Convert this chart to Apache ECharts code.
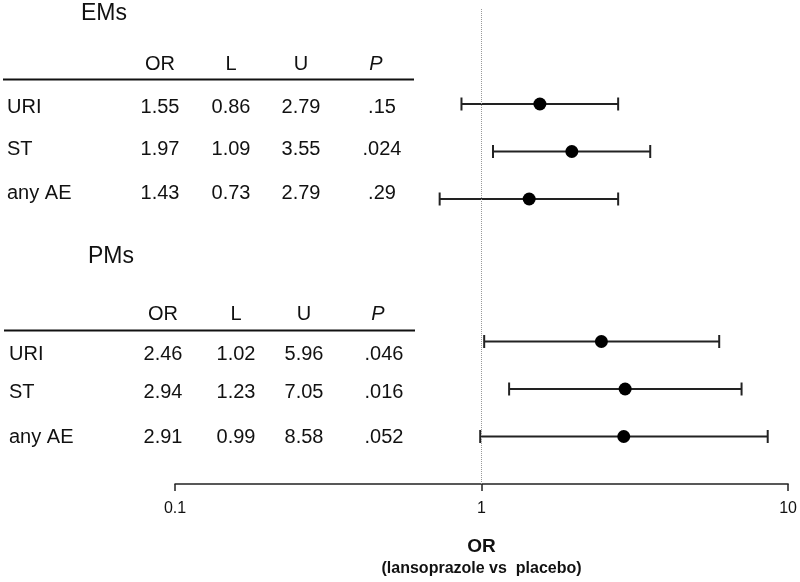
<!DOCTYPE html>
<html>
<head>
<meta charset="utf-8">
<script src="https://cdn.jsdelivr.net/npm/echarts@6/dist/echarts.min.js"></script>
<style>html,body{margin:0;padding:0;background:#fff;}#c{width:800px;height:582px;}</style>
</head>
<body>
<div id="c"></div>
<script>
// ---- data ----
var groups = ['EMs', 'PMs'];
var outcomes = ['URI', 'ST', 'any AE'];
var headers = ['OR', 'L', 'U', 'P'];
var emsOR = [1.55, 1.97, 1.43];
var emsL  = [0.86, 1.09, 0.73];
var emsU  = [2.79, 3.55, 2.79];
var emsP  = ['.15', '.024', '.29'];
var pmsOR = [2.46, 2.94, 2.91];
var pmsL  = [1.02, 1.23, 0.99];
var pmsU  = [5.96, 7.05, 8.58];
var pmsP  = ['.046', '.016', '.052'];
var emsRows = [0, 1, 2];
var pmsRows = [5, 6, 7];
var xTicks = [0.1, 1, 10];
var axisTitle1 = 'OR';
var axisTitle2 = '(lansoprazole vs  placebo)';

// ---- layout (positions only) ----
var FONT = '"Liberation Sans", Arial, sans-serif';
var blocks = [
  {title: groups[0], OR: emsOR, L: emsL, U: emsU, P: emsP,
   titleX: 81, titleY: 14, headY: 64, lineY: 79.5, lineX: [3, 414],
   rowY: [107, 149, 193], labelX: 7, cols: [160, 231, 301, 382], pHeadX: 376},
  {title: groups[1], OR: pmsOR, L: pmsL, U: pmsU, P: pmsP,
   titleX: 88, titleY: 257, headY: 314, lineY: 330.5, lineX: [4, 415],
   rowY: [354, 392, 437], labelX: 9, cols: [163, 236, 304, 384], pHeadX: 378}
];

var graphics = [];
blocks.forEach(function (b) {
  graphics.push({type: 'text', left: b.titleX, top: b.titleY - 12,
    style: {text: b.title, font: '23px ' + FONT, fill: '#111'}});
  headers.forEach(function (h, i) {
    var x = (h === 'P') ? b.pHeadX : b.cols[i];
    graphics.push({type: 'text', x: x, y: b.headY,
      style: {text: h, font: (h === 'P' ? 'italic ' : '') + '20px ' + FONT, fill: '#111',
              align: 'center', verticalAlign: 'middle'}});
  });
  graphics.push({type: 'line', shape: {x1: b.lineX[0], y1: b.lineY, x2: b.lineX[1], y2: b.lineY},
    style: {stroke: '#111', lineWidth: 2}});
  outcomes.forEach(function (o, r) {
    var y = b.rowY[r];
    graphics.push({type: 'text', x: b.labelX, y: y,
      style: {text: o, font: '20px ' + FONT, fill: '#111', align: 'left', verticalAlign: 'middle'}});
    var vals = [b.OR[r].toFixed(2), b.L[r].toFixed(2), b.U[r].toFixed(2), b.P[r]];
    vals.forEach(function (v, i) {
      graphics.push({type: 'text', x: b.cols[i], y: y,
        style: {text: v, font: '20px ' + FONT, fill: '#111', align: 'center', verticalAlign: 'middle'}});
    });
  });
});

function ciData(rows, OR, L, U) {
  return rows.map(function (r, i) { return [OR[i], r, L[i], U[i]]; });
}
var ciAll = ciData(emsRows, emsOR, emsL, emsU).concat(ciData(pmsRows, pmsOR, pmsL, pmsU));
var ptAll = emsRows.map(function (r, i) { return [emsOR[i], r]; })
  .concat(pmsRows.map(function (r, i) { return [pmsOR[i], r]; }));

var chart = echarts.init(document.getElementById('c'), null, {renderer: 'canvas'});
chart.setOption({
  animation: false,
  backgroundColor: '#fff',
  grid: {left: 175, right: 11, top: 9, bottom: 97, containLabel: false},
  xAxis: {
    type: 'log', logBase: 10, min: xTicks[0], max: xTicks[xTicks.length - 1],
    splitLine: {show: false}, minorTick: {show: false},
    axisLine: {onZero: false, lineStyle: {color: '#222', width: 1.5}},
    axisTick: {show: true, length: 7, lineStyle: {color: '#222', width: 1.5}},
    axisLabel: {color: '#111', fontSize: 16, fontFamily: FONT, margin: 17,
      formatter: function (v) { return String(v); }},
    name: '{a|' + axisTitle1 + '}\n{b|' + axisTitle2 + '}',
    nameLocation: 'middle', nameGap: 52,
    nameTextStyle: {
      rich: {
        a: {color: '#111', fontSize: 19, fontWeight: 'bold', fontFamily: FONT, lineHeight: 22, align: 'center'},
        b: {color: '#111', fontSize: 16, fontWeight: 'bold', fontFamily: FONT, lineHeight: 22, align: 'center'}
      }
    }
  },
  yAxis: {type: 'value', min: -2, max: 8, inverse: true, show: false},
  series: [
    {
      type: 'custom',
      data: ciAll,
      encode: {x: [0, 2, 3], y: 1},
      renderItem: function (params, api) {
        var y = api.value(1);
        var p1 = api.coord([api.value(2), y]);
        var p2 = api.coord([api.value(3), y]);
        var h = 6.5;
        var st = {stroke: '#222', lineWidth: 2};
        return {type: 'group', children: [
          {type: 'line', shape: {x1: p1[0], y1: p1[1], x2: p2[0], y2: p2[1]}, style: st},
          {type: 'line', shape: {x1: p1[0], y1: p1[1] - h, x2: p1[0], y2: p1[1] + h}, style: st},
          {type: 'line', shape: {x1: p2[0], y1: p2[1] - h, x2: p2[0], y2: p2[1] + h}, style: st}
        ]};
      },
      z: 2
    },
    {
      type: 'scatter',
      data: ptAll,
      symbol: 'circle', symbolSize: 13,
      itemStyle: {color: '#000', opacity: 1},
      z: 3,
      markLine: {
        silent: true, symbol: 'none', label: {show: false},
        lineStyle: {color: '#999', type: 'dotted', width: 1},
        data: [[{coord: [1, -2]}, {coord: [1, 8]}]]
      }
    }
  ],
  graphic: graphics
});
</script>
</body>
</html>
